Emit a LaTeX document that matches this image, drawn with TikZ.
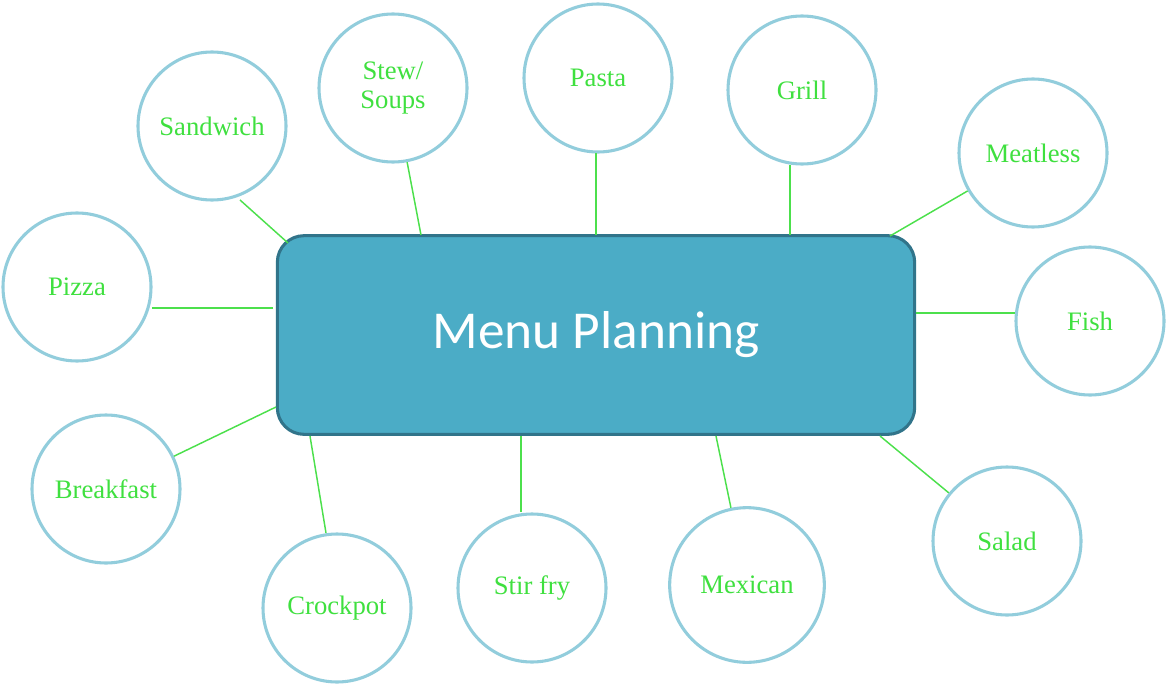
\documentclass[tikz,border=0pt]{standalone}
\usepackage{fontspec}
\setmainfont{Liberation Serif}
\newfontfamily\titlefont{Carlito}
\definecolor{boxfill}{HTML}{4BACC6}
\definecolor{boxedge}{HTML}{31748A}
\definecolor{ringc}{HTML}{92CDDC}
\definecolor{txtg}{HTML}{3FE03F}
\definecolor{lineg}{HTML}{4CE04C}
\begin{document}
\begin{tikzpicture}[x=0.75pt,y=-0.75pt,
  topic/.style={circle,draw=ringc,line width=2.3pt,fill=white,minimum size=111pt,inner sep=0pt,text=txtg,font=\fontsize{20}{22}\selectfont,align=center},
  link/.style={draw=lineg,line width=1.1pt}]
\useasboundingbox (0,0) rectangle (1167,685);
\node[draw=boxedge,line width=2.3pt,fill=boxfill,rounded corners=20pt,minimum width=478pt,minimum height=149pt,text=white,font=\titlefont\fontsize{40}{44}\selectfont] (main) at (596,335) {Menu Planning};
\node[topic] (sandwich) at (212,126) {Sandwich};
\node[topic] (stew) at (393,88) {Stew/\\Soups};
\node[topic] (pasta) at (598,78) {Pasta};
\node[topic] (grill) at (802,90) {Grill};
\node[topic] (meatless) at (1033,153) {Meatless};
\node[topic] (fish) at (1090,321) {Fish};
\node[topic] (salad) at (1007,541) {Salad};
\node[topic,minimum size=116pt] (mexican) at (747,585) {Mexican};
\node[topic] (stirfry) at (532,588) {Stir fry};
\node[topic] (crockpot) at (337,608) {Crockpot};
\node[topic] (breakfast) at (106,489) {Breakfast};
\node[topic] (pizza) at (77,287) {Pizza};
\coordinate (c1) at (288,243);
\coordinate (c2) at (421,235);
\coordinate (c3) at (596,235);
\coordinate (c4) at (790,235);
\coordinate (c5) at (890,236);
\coordinate (c6) at (916,313);
\coordinate (c7) at (880,436);
\coordinate (c8) at (716,436);
\coordinate (c9) at (521,436);
\coordinate (c10) at (310,436);
\coordinate (c11) at (276,407);
\coordinate (c12) at (273,308);
\draw[link] (c1) -- (240,200);
\draw[link] (c2) -- (stew);
\draw[link] (c3) -- (596,153);
\draw[link] (c4) -- (790,165);
\draw[link] (c5) -- (meatless);
\draw[link] (c6) -- (1015,313);
\draw[link] (c7) -- (salad);
\draw[link] (c8) -- (mexican);
\draw[link] (c9) -- (521,512);
\draw[link] (c10) -- (326,533);
\draw[link] (c11) -- (breakfast);
\draw[link] (c12) -- (152,308);
\end{tikzpicture}
\end{document}
